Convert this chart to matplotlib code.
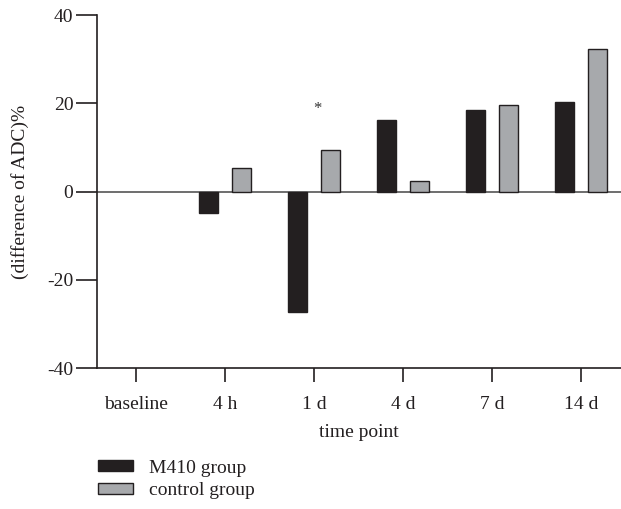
import matplotlib
matplotlib.use("Agg")
import matplotlib.pyplot as plt
from matplotlib.patches import Patch
import numpy as np

categories = ["baseline", "4 h", "1 d", "4 d", "7 d", "14 d"]
m410 = [np.nan, -4.8, -27.4, 16.1, 18.4, 20.2]
control = [np.nan, 5.4, 9.3, 2.3, 19.5, 32.4]
star_pos = (2.04, 18.8)

plt.rcParams['font.family'] = ['Liberation Serif', 'DejaVu Serif']
plt.rcParams['axes.unicode_minus'] = False
fs = 14
fig = plt.figure(figsize=(6.21, 5.09), dpi=100)
ax = fig.add_axes([0.156, 0.277, 0.844, 0.6935])

x = np.arange(len(categories))
w = 0.21
off = 0.185
black = "#231f20"
gray = "#a7a9ac"
ax.bar(x - off, m410, width=w, color=black, edgecolor=black, linewidth=1.0, label="M410 group")
ax.bar(x + off, control, width=w, color=gray, edgecolor=black, linewidth=1.0, label="control group")
ax.axhline(0, color="#555555", linewidth=1.2, zorder=0)
ax.text(star_pos[0], star_pos[1], "*", ha="center", va="center", fontsize=12, color="#333333")

ax.set_xlim(-0.44, 5.45)
ax.set_ylim(-40, 40)
ax.set_yticks([-40, -20, 0, 20, 40])
ax.set_xticks(x)
ax.set_xticklabels(categories)
ax.spines['top'].set_visible(False)
ax.spines['right'].set_visible(False)
for s in ['left', 'bottom']:
    ax.spines[s].set_color("#231f20")
    ax.spines[s].set_linewidth(1.2)
ax.tick_params(axis='both', direction='out', width=1.2, colors="#231f20", labelsize=fs, labelcolor="#231f20")
ax.tick_params(axis='y', length=15, pad=2)
ax.tick_params(axis='x', length=10, pad=10)
ax.set_ylabel("(difference of ADC)%", fontsize=fs, color="#231f20", labelpad=13)
ax.set_xlabel("time point", fontsize=fs, color="#231f20", labelpad=8)

handles = [Patch(facecolor=black, edgecolor=black, label="M410 group"),
           Patch(facecolor=gray, edgecolor=black, label="control group")]
fig.legend(handles=handles, loc="upper left", bbox_to_anchor=(0.158, 0.097), frameon=False,
           fontsize=fs, handlelength=1.8, handleheight=0.45, handletextpad=0.8,
           labelspacing=0.3, borderaxespad=0, borderpad=0, labelcolor="#231f20")

fig.savefig("out.png", dpi=100)
